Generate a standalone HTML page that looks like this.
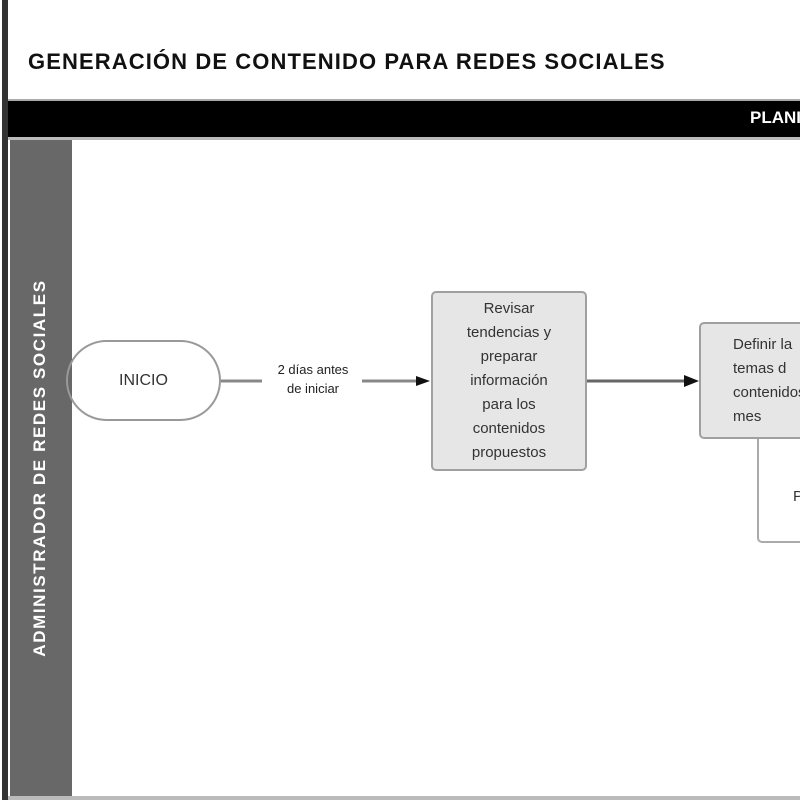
<!DOCTYPE html>
<html><head><meta charset="utf-8"><style>
body{margin:0;width:800px;height:800px;overflow:hidden;background:#fff;font-family:"Liberation Sans",sans-serif;position:relative}
div{position:absolute;box-sizing:border-box}
.box{background:#e6e6e6;border:2px solid #a0a0a0;border-radius:5px;display:flex;align-items:center;justify-content:center;text-align:center;font-size:15px;line-height:24px;color:#333}
</style></head><body>
<div style="left:2px;top:0;width:6px;height:800px;background:#333"></div>
<div style="left:28px;top:49px;font-size:22px;font-weight:bold;color:#111;white-space:nowrap;letter-spacing:1.1px">GENERACIÓN DE CONTENIDO PARA REDES SOCIALES</div>
<div style="left:8px;top:99px;width:792px;height:2px;background:#aaa"></div>
<div style="left:8px;top:101px;width:792px;height:36px;background:#000"></div>
<div style="left:750px;top:108px;color:#fff;font-weight:bold;font-size:17px;white-space:nowrap">PLANI</div>
<div style="left:8px;top:137px;width:792px;height:3px;background:#bbb"></div>
<div style="left:10px;top:140px;width:62px;height:657px;background:#686868"></div>
<div style="left:41px;top:468px;width:0;height:0"><div style="left:-220px;top:-11px;width:440px;height:22px;transform:rotate(-90deg);color:#fff;font-weight:bold;font-size:17px;letter-spacing:1.6px;text-align:center;white-space:nowrap">ADMINISTRADOR DE REDES SOCIALES</div></div>
<div style="left:8px;top:796px;width:792px;height:4px;background:#bbb"></div>
<div style="left:66px;top:340px;width:155px;height:81px;border:2px solid #999;border-radius:41px;display:flex;align-items:center;justify-content:center;font-size:16px;color:#333">INICIO</div>
<svg style="position:absolute;left:0;top:0" width="800" height="800">
<line x1="221" y1="381" x2="262" y2="381" stroke="#888" stroke-width="3"/>
<line x1="362" y1="381" x2="418" y2="381" stroke="#888" stroke-width="3"/>
<polygon points="430,381 416,376 416,386" fill="#111"/>
<line x1="586" y1="381" x2="685" y2="381" stroke="#666" stroke-width="3"/>
<polygon points="699,381 684,375 684,387" fill="#111"/>
</svg>
<div style="left:258px;top:360px;width:110px;text-align:center;font-size:13px;line-height:19px;color:#222">2 días antes<br>de iniciar</div>
<div class="box" style="left:431px;top:291px;width:156px;height:180px">Revisar<br>tendencias y<br>preparar<br>información<br>para los<br>contenidos<br>propuestos</div>
<div style="left:757px;top:432px;width:60px;height:111px;border:2px solid #aaa;border-radius:5px;background:#fff"></div>
<div style="left:793px;top:488px;font-size:15px;color:#333">P</div>
<div class="box" style="left:699px;top:322px;width:160px;height:117px;justify-content:flex-start;padding-left:32px;text-align:left">Definir la<br>temas d<br>contenidos<br>mes</div>
</body></html>
